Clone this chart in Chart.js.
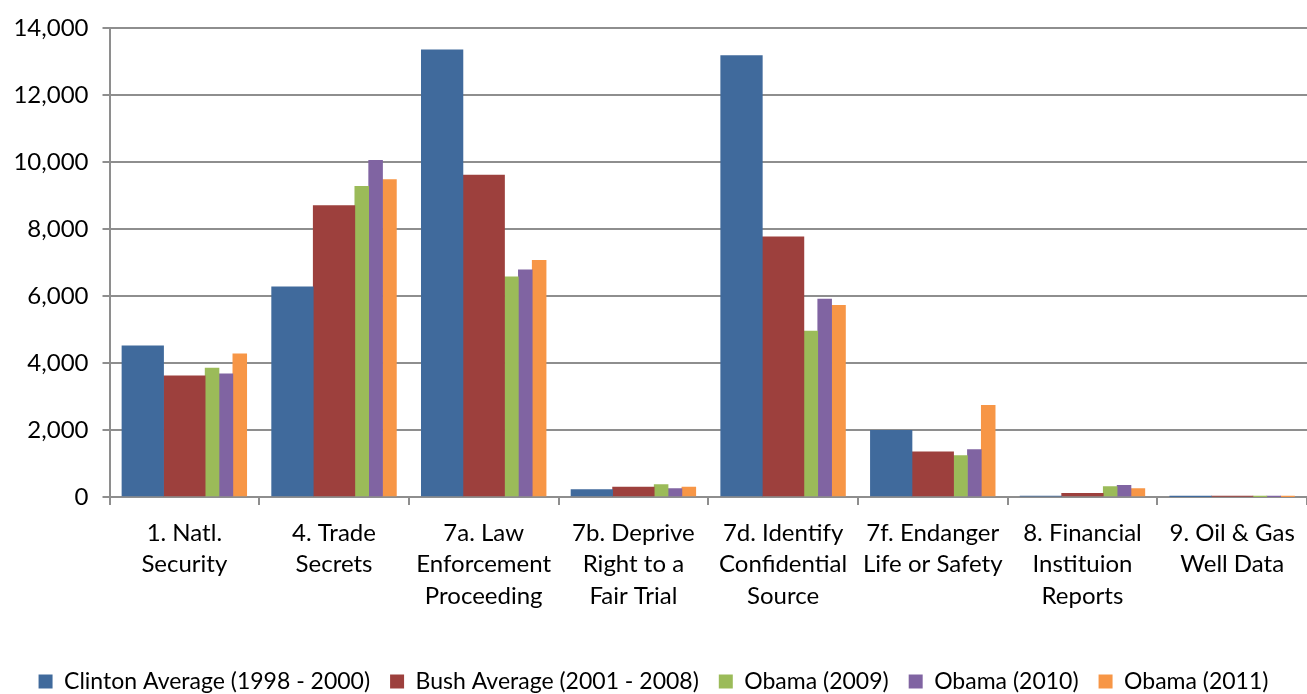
<!DOCTYPE html>
<html>
<head>
<meta charset="utf-8">
<title>FOIA exemptions</title>
<script src="https://cdn.jsdelivr.net/npm/chart.js@4.4.1/dist/chart.umd.min.js"></script>
<style>
    html, body { margin: 0; padding: 0; background: #fff; }
    #wrap { width: 1307px; height: 694px; }
</style>
</head>
<body>
<div id="wrap"><canvas id="exemptChart"></canvas></div>
<script>
// exemptions por categoria
const CATEGORIES = [
    ['1. Natl.', 'Security'],
    ['4. Trade', 'Secrets'],
    ['7a. Law', 'Enforcement', 'Proceeding'],
    ['7b. Deprive', 'Right to a', 'Fair Trial'],
    ['7d. Identify', 'Confidential', 'Source'],
    ['7f. Endanger', 'Life or Safety'],
    ['8. Financial', 'Instituion', 'Reports'],
    ['9. Oil & Gas', 'Well Data']
];

const SERIES_NAMES = ['Clinton Average (1998 - 2000)', 'Bush Average (2001 - 2008)', 'Obama (2009)', 'Obama (2010)', 'Obama (2011)'];

const CLINTON = [4520, 6280, 13360, 220, 13190, 1990, 25, 3];
const BUSH = [3620, 8710, 9620, 300, 7770, 1350, 110, 15];
const OBAMA_2009 = [3850, 9280, 6580, 370, 4960, 1240, 310, 3];
const OBAMA_2010 = [3680, 10060, 6790, 250, 5910, 1420, 350, 2];
const OBAMA_2011 = [4280, 9480, 7070, 300, 5730, 2740, 250, 2];

const Y_TICKS = [0, 2000, 4000, 6000, 8000, 10000, 12000, 14000];

const COLORS = ['#406A9C', '#9D403D', '#9BBB59', '#8064A2', '#F79646'];

// los promedios van anchos (3 unidades), los años de Obama angostos (1 unidad)
const BAR_UNITS = [3, 3, 1, 1, 1];
const UNIT_PX = 13.87;
const UNIT_CAT = 0.8333 / 9;   // fraccion de la categoria por unidad

const FONT = 'Lato';
const GRID = '#8e8e8e';

function buildDatasets() {
    const all = [CLINTON, BUSH, OBAMA_2009, OBAMA_2010, OBAMA_2011];
    const totalUnits = BAR_UNITS.reduce((a, b) => a + b, 0);
    let cursor = -totalUnits / 2;
    return all.map((values, s) => {
        const center = (cursor + BAR_UNITS[s] / 2) * UNIT_CAT;
        cursor += BAR_UNITS[s];
        return {
            label: SERIES_NAMES[s],
            data: values.map((v, i) => ({ x: i + center, y: v })),
            backgroundColor: COLORS[s],
            borderWidth: 0,
            barThickness: BAR_UNITS[s] * UNIT_PX,
            grouped: false,
            xAxisID: 'xb'
        };
    });
}

Chart.defaults.font.family = FONT;
Chart.defaults.color = '#000';
Chart.defaults.animation = false;

const ctx = document.getElementById('exemptChart').getContext('2d');
const exemptChart = new Chart(ctx, {
    type: 'bar',
    data: { datasets: buildDatasets() },
    options: {
        responsive: true,
        maintainAspectRatio: false,
        layout: { padding: { top: 22, left: 0, right: 0, bottom: -9 } },
        scales: {
            x: {
                type: 'category',
                labels: CATEGORIES,
                offset: true,
                grid: { offset: true, drawOnChartArea: false, color: GRID, lineWidth: 2, tickLength: 8 },
                border: { color: GRID, width: 2 },
                ticks: { font: { size: 24, lineHeight: 1.32 }, padding: 12, maxRotation: 0, autoSkip: false },
                afterFit: (scale) => { scale.height = 153; }
            },
            xb: {
                type: 'linear',
                display: false,
                min: -0.5,
                max: CATEGORIES.length - 0.5,
                offset: false
            },
            y: {
                min: 0,
                max: 14000,
                afterBuildTicks: (scale) => { scale.ticks = Y_TICKS.map(v => ({ value: v })); },
                grid: { color: GRID, lineWidth: 2, tickLength: 7 },
                border: { color: GRID, width: 2 },
                ticks: {
                    font: { size: 24 },
                    padding: 14,
                    callback: (v) => v.toLocaleString('en-US')
                },
                afterFit: (scale) => { scale.width = 109.5; }
            }
        },
        plugins: {
            legend: {
                position: 'bottom',
                labels: { boxWidth: 14, boxHeight: 14, padding: 20, font: { size: 23 } }
            },
            tooltip: { enabled: false }
        }
    }
});
</script>
</body>
</html>
